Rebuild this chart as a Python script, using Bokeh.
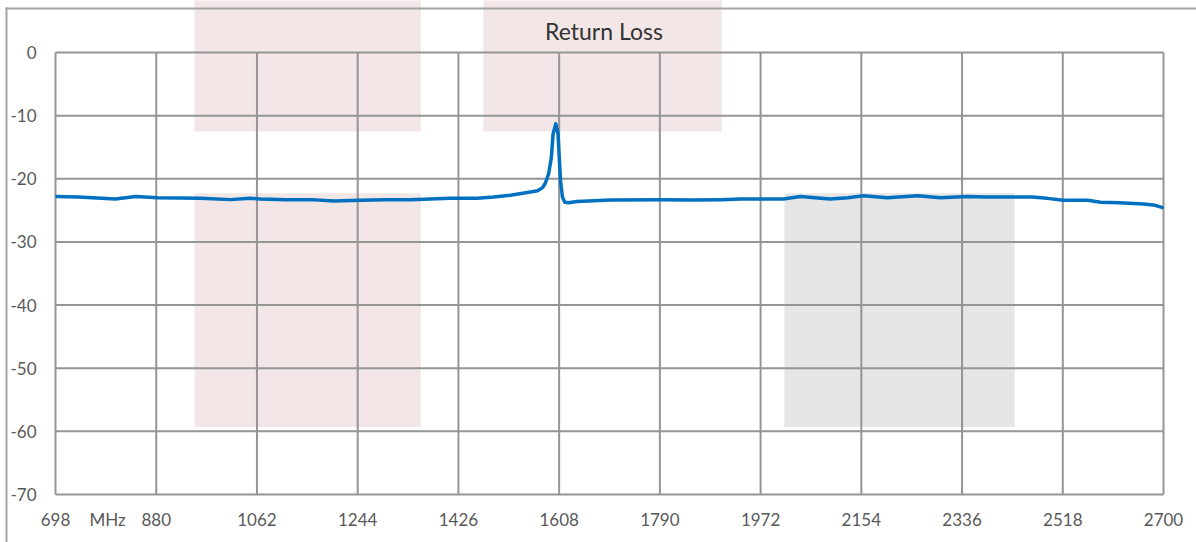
from bokeh.plotting import figure
from bokeh.models import FixedTicker, Range1d, Label, BoxAnnotation
from bokeh.embed import file_html
from bokeh.resources import INLINE

# ---- data ----
freq = [698, 740, 806, 843, 882, 960, 1014, 1050, 1068, 1114, 1160, 1200, 1250, 1291,
        1339, 1412, 1460, 1490, 1520, 1548, 1569, 1578, 1583, 1589, 1594, 1597, 1602,
        1606, 1608.5, 1610.5, 1614, 1618, 1625, 1640, 1701, 1791, 1850, 1900, 1936,
        2013, 2044, 2070, 2098, 2130, 2158, 2201, 2256, 2297, 2346, 2380, 2418, 2463,
        2490, 2519, 2563, 2586, 2620, 2664, 2685, 2700]
return_loss = [-22.8, -22.9, -23.2, -22.8, -23.0, -23.1, -23.3, -23.1, -23.2, -23.3, -23.3,
               -23.5, -23.4, -23.3, -23.3, -23.1, -23.1, -22.9, -22.6, -22.2, -21.9, -21.4,
               -20.7, -19.2, -16.6, -12.9, -11.3, -12.9, -17.1, -20.3, -22.9, -23.7, -23.8,
               -23.6, -23.35, -23.3, -23.35, -23.3, -23.2, -23.2, -22.8, -23.0, -23.2, -23.0,
               -22.7, -23.0, -22.7, -23.0, -22.8, -22.9, -22.9, -22.9, -23.1, -23.4, -23.4,
               -23.7, -23.8, -24.0, -24.2, -24.6]

x_ticks = [698, 880, 1062, 1244, 1426, 1608, 1790, 1972, 2154, 2336, 2518, 2700]
y_ticks = [0, -10, -20, -30, -40, -50, -60, -70]
unit_label = "MHz"
unit_pos = 792

# shaded bands: (left, right, bottom, top)
pink_left = [949, 949, 1471]
pink_right = [1358, 1358, 1902]
pink_bottom = [-59.3, -12.5, -12.5]
pink_top = [-22.3, 20, 20]
gray_left = [2015]
gray_right = [2431]
gray_bottom = [-59.3]
gray_top = [-22.3]

title_text = "Return Loss"
title_x = 1689
title_y = 3.35

# ---- figure: the frame fills the whole canvas, axes sit at fixed data locations ----
p = figure(width=1196, height=542, output_backend="svg", toolbar_location=None,
           x_range=Range1d(598.62, 2759.6), y_range=Range1d(-77.60, 8.235),
           min_border=0, min_border_left=0, min_border_right=0,
           min_border_top=0, min_border_bottom=0)
p.outline_line_color = None
p.xgrid.visible = False
p.ygrid.visible = False
p.background_fill_color = "white"
p.border_fill_color = "white"

p.quad(left=pink_left, right=pink_right, bottom=pink_bottom, top=pink_top,
       fill_color="#F2E6E6", line_color=None)
p.quad(left=gray_left, right=gray_right, bottom=gray_bottom, top=gray_top,
       fill_color="#E6E6E6", line_color=None)

gc = "#959595"
ymin, ymax = min(y_ticks), max(y_ticks)
p.segment(x0=x_ticks, y0=[ymin] * len(x_ticks), x1=x_ticks, y1=[ymax] * len(x_ticks),
          line_color=gc, line_width=2)
p.segment(x0=[x_ticks[0]] * len(y_ticks), y0=y_ticks, x1=[x_ticks[-1]] * len(y_ticks),
          y1=y_ticks, line_color=gc, line_width=2)

p.line(freq, return_loss, line_color="#0070C0", line_width=3.5, line_join="round")

# chart-area border (left and top edges)
bc = "#A3A3A3"
p.add_layout(BoxAnnotation(left=5, right=7, top=7, bottom=542,
                           left_units="canvas", right_units="canvas",
                           top_units="canvas", bottom_units="canvas",
                           fill_color=bc, fill_alpha=1, line_color=None, level="overlay"))
p.add_layout(BoxAnnotation(left=5, right=1196, top=7, bottom=9,
                           left_units="canvas", right_units="canvas",
                           top_units="canvas", bottom_units="canvas",
                           fill_color=bc, fill_alpha=1, line_color=None, level="overlay"))

font = "Lato"
for ax in (p.xaxis[0], p.yaxis[0]):
    ax.axis_line_color = None
    ax.major_tick_line_color = None
    ax.minor_tick_line_color = None
    ax.major_tick_in = 0
    ax.major_tick_out = 0
    ax.minor_tick_in = 0
    ax.minor_tick_out = 0
    ax.major_label_text_font = font
    ax.major_label_text_font_size = "17px"
    ax.major_label_text_color = "#595959"

p.xaxis.fixed_location = ymin
p.xaxis.ticker = FixedTicker(ticks=x_ticks + [unit_pos])
overrides = {t: str(t) for t in x_ticks}
overrides[unit_pos] = unit_label
p.xaxis.major_label_overrides = overrides
p.xaxis.major_label_standoff = 14

p.yaxis.fixed_location = x_ticks[0]
p.yaxis.ticker = FixedTicker(ticks=y_ticks)
p.yaxis.major_label_overrides = {t: str(t) for t in y_ticks}
p.yaxis.major_label_standoff = 19

p.add_layout(Label(x=title_x, y=title_y, text=title_text, text_align="center",
                   text_baseline="middle", text_font=font, text_font_size="23px",
                   text_color="#333333"))

open("out.html", "w").write(file_html(p, INLINE))
